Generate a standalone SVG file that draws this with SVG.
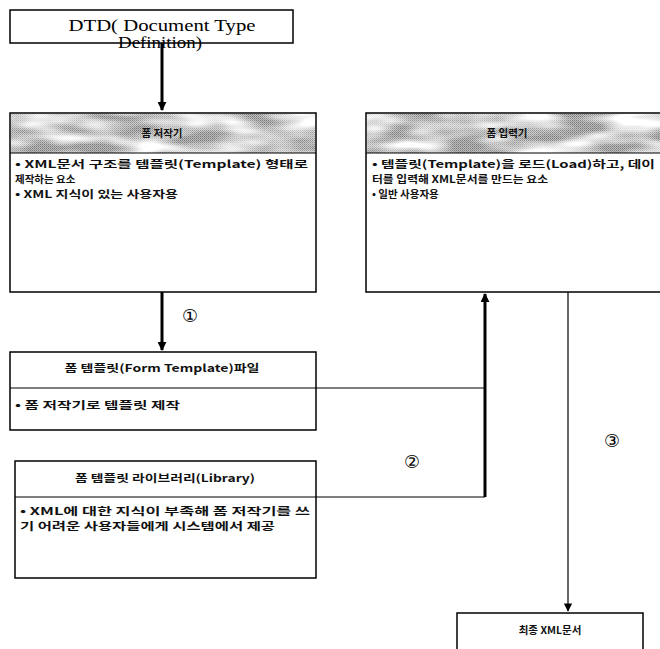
<svg xmlns="http://www.w3.org/2000/svg" width="660" height="649" viewBox="0 0 660 649">
<style>
.box{fill:#fff;stroke:#000;stroke-width:1.5}
.div{stroke:#000;stroke-width:1.2;fill:none}
.ko{font-family:"Noto Sans CJK KR","Noto Sans",sans-serif;font-weight:bold;font-size:10.5px;fill:#111}
.hd{text-anchor:middle}
.num{font-family:"DejaVu Sans",sans-serif;font-size:18px;fill:#000;text-anchor:middle}
.thick{stroke:#000;stroke-width:3;fill:none}
.thin{stroke:#000;stroke-width:1.2;fill:none}
</style>
<defs>
<marker id="ah" viewBox="0 0 10 10" refX="9" refY="5" markerWidth="3" markerHeight="3" orient="auto" markerUnits="strokeWidth"><path d="M0,0 L10,5 L0,10 z" fill="#000"/></marker>
<marker id="ah2" viewBox="0 0 10 10" refX="9" refY="5" markerWidth="7" markerHeight="7" orient="auto" markerUnits="strokeWidth"><path d="M0,0 L10,5 L0,10 z" fill="#000"/></marker>
<pattern id="dither" width="2" height="2" patternUnits="userSpaceOnUse"><rect width="2" height="2" fill="#bcbcbc"/><rect width="1" height="1" fill="#777"/><rect x="1" y="1" width="1" height="1" fill="#959595"/></pattern>
<filter id="mottle" x="0" y="0" width="1" height="1">
<feTurbulence type="fractalNoise" baseFrequency="0.018 0.07" numOctaves="2" seed="7"/>
<feColorMatrix type="matrix" values="0 0 0 0 1  0 0 0 0 1  0 0 0 0 1  2.6 0 0 0 -0.85"/>
<feComposite operator="in" in2="SourceGraphic"/>
</filter>
</defs>

<g id="connectors">
<path class="thick" d="M162,43 V110" marker-end="url(#ah)"/>
<path class="thick" d="M162,292 V350" marker-end="url(#ah)"/>
<path class="thin" d="M316,388 H485"/>
<path class="thin" d="M316,497 H485"/>
<path class="thick" d="M485,497 V294" marker-end="url(#ah)"/>
<path class="thin" d="M568,292 V611" marker-end="url(#ah2)"/>
<text class="num" x="190" y="322">①</text>
<text class="num" x="412" y="468">②</text>
<text class="num" x="612" y="447">③</text>
</g>

<g id="dtd">
<rect class="box" x="10" y="10" width="283" height="33"/>
<text x="162" y="31" font-family="Liberation Serif, serif" font-size="17" text-anchor="middle" textLength="187" lengthAdjust="spacingAndGlyphs">DTD( Document Type</text>
<text x="160" y="48" font-family="Liberation Serif, serif" font-size="16" text-anchor="middle" textLength="84" lengthAdjust="spacingAndGlyphs">Definition)</text>
</g>

<g id="form-editor">
<rect class="box" x="10" y="113" width="306" height="179"/>
<rect x="11" y="114" width="304" height="39" fill="url(#dither)"/>
<rect x="11" y="114" width="304" height="39" fill="#fff" filter="url(#mottle)"/>
<line class="div" x1="10" y1="153" x2="316" y2="153"/>
<text class="ko hd" x="162" y="137">폼 저작기</text>
<text class="ko" x="15" y="168" textLength="293" lengthAdjust="spacingAndGlyphs">• XML문서 구조를 템플릿(Template) 형태로</text>
<text class="ko" x="15" y="183">제작하는 요소</text>
<text class="ko" x="15" y="198" textLength="163" lengthAdjust="spacingAndGlyphs">• XML 지식이 있는 사용자용</text>
</g>

<g id="form-input">
<rect class="box" x="366" y="113" width="300" height="179"/>
<rect x="367" y="114" width="293" height="39" fill="url(#dither)"/>
<rect x="367" y="114" width="293" height="39" fill="#fff" filter="url(#mottle)"/>
<line class="div" x1="366" y1="153" x2="660" y2="153"/>
<text class="ko hd" x="507" y="137">폼 입력기</text>
<text class="ko" x="372" y="168" textLength="283" lengthAdjust="spacingAndGlyphs">• 템플릿(Template)을 로드(Load)하고, 데이</text>
<text class="ko" x="372" y="183" textLength="176" lengthAdjust="spacingAndGlyphs">터를 입력해 XML문서를 만드는 요소</text>
<text class="ko" x="372" y="198">• 일반 사용자용</text>
</g>

<g id="form-template">
<rect class="box" x="10" y="352" width="306" height="78"/>
<line class="div" x1="10" y1="388" x2="316" y2="388"/>
<text class="ko hd" x="162" y="372" textLength="195" lengthAdjust="spacingAndGlyphs">폼 템플릿(Form Template)파일</text>
<text class="ko" x="15" y="409" textLength="165" lengthAdjust="spacingAndGlyphs">• 폼 저작기로 템플릿 제작</text>
</g>

<g id="library">
<rect class="box" x="15" y="461" width="301" height="117"/>
<line class="div" x1="15" y1="497" x2="316" y2="497"/>
<text class="ko hd" x="165" y="482" textLength="180" lengthAdjust="spacingAndGlyphs">폼 템플릿 라이브러리(Library)</text>
<text class="ko" x="20" y="515" textLength="290" lengthAdjust="spacingAndGlyphs">• XML에 대한 지식이 부족해 폼 저작기를 쓰</text>
<text class="ko" x="20" y="530" textLength="255" lengthAdjust="spacingAndGlyphs">기 어려운 사용자들에게 시스템에서 제공</text>
</g>

<g id="final-xml">
<rect class="box" x="457" y="613" width="186" height="50"/>
<text class="ko hd" x="550" y="634">최종 XML문서</text>
</g>
</svg>
